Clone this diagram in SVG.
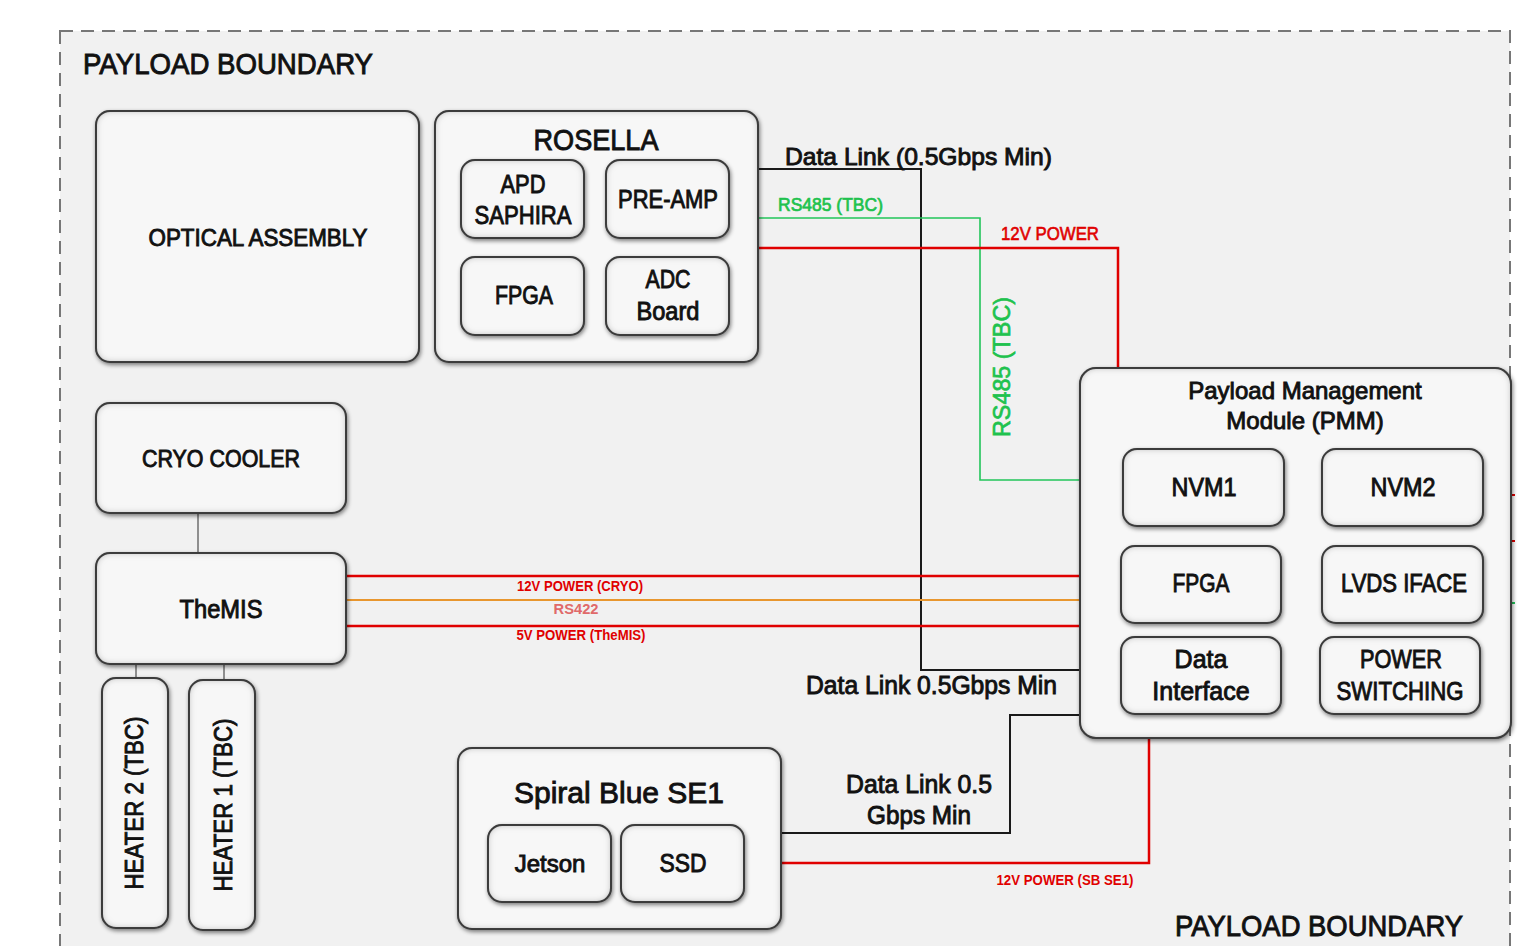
<svg xmlns="http://www.w3.org/2000/svg" width="1527" height="946" viewBox="0 0 1527 946">
<defs>
<filter id="box" x="-15%" y="-15%" width="130%" height="130%">
  <feGaussianBlur in="SourceAlpha" stdDeviation="2" result="blur"/>
  <feOffset in="blur" dx="1" dy="2" result="off"/>
  <feComponentTransfer in="off" result="drop"><feFuncA type="linear" slope="0.5"/></feComponentTransfer>
  <feFlood flood-color="#000" flood-opacity="0.75" result="fl"/>
  <feComposite in="fl" in2="SourceAlpha" operator="out" result="inv"/>
  <feGaussianBlur in="inv" stdDeviation="3.5" result="invb"/>
  <feComposite in="invb" in2="SourceAlpha" operator="in" result="inner"/>
  <feMerge><feMergeNode in="drop"/><feMergeNode in="SourceGraphic"/><feMergeNode in="inner"/></feMerge>
</filter>
<style>
.bx{fill:#f7f7f7;stroke:#4a4a4a;stroke-width:2;filter:url(#box)}
text{font-family:"Liberation Sans",Arial,sans-serif;fill:#111;stroke:#111;stroke-width:0.9}
.c{text-anchor:middle}
.lbl{font-size:25px}
.sm{font-size:14px;font-weight:bold;stroke:none}
.red{fill:#e00000;stroke:#e00000;stroke-width:0.6}
.pink{fill:#e06a6a;stroke:none}
.grn{fill:#1fc24e;stroke:#1fc24e;stroke-width:0.7}
.blk{fill:none;stroke:#1a1a1a;stroke-width:2}
.rl{fill:none;stroke:#e00000;stroke-width:2.5}
.gl{fill:none;stroke:#22c55a;stroke-width:1.6}
.ol{fill:none;stroke:#e8962e;stroke-width:2}
.gy{fill:none;stroke:#777;stroke-width:1.6}
</style>
</defs>
<rect x="0" y="0" width="1527" height="946" fill="#ffffff"/>
<g id="boundary">
  <rect x="60" y="31" width="1450" height="940" fill="#f1f1f1" stroke="#777" stroke-width="2" stroke-dasharray="13 8"/>
  <text x="83" y="74" font-size="29" textLength="290" lengthAdjust="spacingAndGlyphs">PAYLOAD BOUNDARY</text>
  <text x="1175" y="936" font-size="29" textLength="288" lengthAdjust="spacingAndGlyphs">PAYLOAD BOUNDARY</text>
</g>
<g id="connectors">
  <polyline class="blk" points="759,169 921,169 921,670 1080,670"/>
  <polyline class="gl" points="759,218 980,218 980,480 1080,480"/>
  <polyline class="rl" points="759,248 1118,248 1118,368"/>
  <line class="rl" x1="346" y1="576" x2="1080" y2="576"/>
  <line class="ol" x1="346" y1="600" x2="1080" y2="600"/>
  <line class="rl" x1="346" y1="626" x2="1080" y2="626"/>
  <polyline class="blk" points="781,833 1010,833 1010,715 1080,715"/>
  <polyline class="rl" points="781,863 1149,863 1149,739"/>
  <line class="gy" x1="198" y1="513" x2="198" y2="553"/>
  <line class="gy" x1="136" y1="665" x2="136" y2="678"/>
  <line class="gy" x1="224" y1="665" x2="224" y2="680"/>
  <line x1="1511" y1="495" x2="1515" y2="495" stroke="#e00000" stroke-width="2"/>
  <line x1="1511" y1="541" x2="1515" y2="541" stroke="#e00000" stroke-width="2"/>
  <line x1="1511" y1="603" x2="1515" y2="603" stroke="#22c55a" stroke-width="2"/>
  <text x="785" y="165" font-size="24" textLength="267" lengthAdjust="spacingAndGlyphs">Data Link (0.5Gbps Min)</text>
  <text x="778" y="211" font-size="18" class="grn" textLength="105" lengthAdjust="spacingAndGlyphs">RS485 (TBC)</text>
  <text x="1001" y="240" font-size="18" class="red" textLength="98" lengthAdjust="spacingAndGlyphs">12V POWER</text>
  <text transform="translate(1010,367) rotate(-90)" class="c grn" font-size="24" textLength="140" lengthAdjust="spacingAndGlyphs">RS485 (TBC)</text>
  <text x="580" y="591" class="c sm red" stroke="none" style="stroke:none" textLength="126" lengthAdjust="spacingAndGlyphs">12V POWER (CRYO)</text>
  <text x="576" y="614" class="c sm pink" textLength="45" lengthAdjust="spacingAndGlyphs">RS422</text>
  <text x="581" y="640" class="c sm red" style="stroke:none" textLength="129" lengthAdjust="spacingAndGlyphs">5V POWER (TheMIS)</text>
  <text x="806" y="694" font-size="25" textLength="251" lengthAdjust="spacingAndGlyphs">Data Link 0.5Gbps Min</text>
  <text x="919" y="793" class="c" font-size="25" textLength="146" lengthAdjust="spacingAndGlyphs">Data Link 0.5</text>
  <text x="919" y="824" class="c" font-size="25" textLength="104" lengthAdjust="spacingAndGlyphs">Gbps Min</text>
  <text x="1065" y="885" class="c sm red" style="stroke:none" textLength="137" lengthAdjust="spacingAndGlyphs">12V POWER (SB SE1)</text>
</g>
<g id="optical">
  <rect class="bx" x="96" y="111" width="323" height="251" rx="14"/>
  <text x="258" y="246" class="c" font-size="24" textLength="219" lengthAdjust="spacingAndGlyphs">OPTICAL ASSEMBLY</text>
</g>
<g id="rosella">
  <rect class="bx" x="435" y="111" width="323" height="251" rx="14"/>
  <text x="596" y="150" class="c" font-size="30" textLength="125" lengthAdjust="spacingAndGlyphs">ROSELLA</text>
</g>
<g id="apd">
  <rect class="bx" x="461" y="160" width="123" height="78" rx="14"/>
  <text x="523" y="193" class="c lbl" textLength="45" lengthAdjust="spacingAndGlyphs">APD</text>
  <text x="523" y="224" class="c lbl" textLength="97" lengthAdjust="spacingAndGlyphs">SAPHIRA</text>
</g>
<g id="preamp">
  <rect class="bx" x="606" y="160" width="123" height="78" rx="14"/>
  <text x="668" y="208" class="c lbl" textLength="100" lengthAdjust="spacingAndGlyphs">PRE-AMP</text>
</g>
<g id="fpga-rosella">
  <rect class="bx" x="461" y="257" width="123" height="78" rx="14"/>
  <text x="524" y="304" class="c lbl" textLength="58" lengthAdjust="spacingAndGlyphs">FPGA</text>
</g>
<g id="adc">
  <rect class="bx" x="606" y="257" width="123" height="78" rx="14"/>
  <text x="668" y="288" class="c lbl" textLength="45" lengthAdjust="spacingAndGlyphs">ADC</text>
  <text x="668" y="320" class="c lbl" textLength="63" lengthAdjust="spacingAndGlyphs">Board</text>
</g>
<g id="cryo">
  <rect class="bx" x="96" y="403" width="250" height="110" rx="14"/>
  <text x="221" y="467" class="c" font-size="24" textLength="158" lengthAdjust="spacingAndGlyphs">CRYO COOLER</text>
</g>
<g id="themis">
  <rect class="bx" x="96" y="553" width="250" height="111" rx="14"/>
  <text x="221" y="618" class="c lbl" textLength="83" lengthAdjust="spacingAndGlyphs">TheMIS</text>
</g>
<g id="heater2">
  <rect class="bx" x="102" y="678" width="66" height="250" rx="14"/>
  <text transform="translate(143,803) rotate(-90)" class="c lbl" textLength="173" lengthAdjust="spacingAndGlyphs">HEATER 2 (TBC)</text>
</g>
<g id="heater1">
  <rect class="bx" x="189" y="680" width="66" height="250" rx="14"/>
  <text transform="translate(232,805) rotate(-90)" class="c lbl" textLength="173" lengthAdjust="spacingAndGlyphs">HEATER 1 (TBC)</text>
</g>
<g id="pmm">
  <rect class="bx" x="1080" y="368" width="431" height="370" rx="16"/>
  <text x="1305" y="399" class="c" font-size="24">Payload Management</text>
  <text x="1305" y="429" class="c" font-size="24">Module (PMM)</text>
</g>
<g id="nvm1">
  <rect class="bx" x="1123" y="449" width="161" height="77" rx="14"/>
  <text x="1204" y="496" class="c lbl" textLength="65" lengthAdjust="spacingAndGlyphs">NVM1</text>
</g>
<g id="nvm2">
  <rect class="bx" x="1322" y="449" width="161" height="77" rx="14"/>
  <text x="1403" y="496" class="c lbl" textLength="65" lengthAdjust="spacingAndGlyphs">NVM2</text>
</g>
<g id="fpga-pmm">
  <rect class="bx" x="1121" y="546" width="160" height="77" rx="14"/>
  <text x="1201" y="592" class="c lbl" textLength="57" lengthAdjust="spacingAndGlyphs">FPGA</text>
</g>
<g id="lvds">
  <rect class="bx" x="1322" y="546" width="161" height="77" rx="14"/>
  <text x="1404" y="592" class="c lbl" textLength="126" lengthAdjust="spacingAndGlyphs">LVDS IFACE</text>
</g>
<g id="data-interface">
  <rect class="bx" x="1121" y="637" width="160" height="77" rx="14"/>
  <text x="1201" y="668" class="c lbl">Data</text>
  <text x="1201" y="700" class="c lbl">Interface</text>
</g>
<g id="power-switching">
  <rect class="bx" x="1320" y="637" width="160" height="77" rx="14"/>
  <text x="1401" y="668" class="c lbl" textLength="82" lengthAdjust="spacingAndGlyphs">POWER</text>
  <text x="1400" y="700" class="c lbl" textLength="127" lengthAdjust="spacingAndGlyphs">SWITCHING</text>
</g>
<g id="spiral-blue">
  <rect class="bx" x="458" y="748" width="323" height="181" rx="14"/>
  <text x="619" y="803" class="c" font-size="30">Spiral Blue SE1</text>
</g>
<g id="jetson">
  <rect class="bx" x="488" y="825" width="123" height="77" rx="14"/>
  <text x="550" y="872" class="c" font-size="24">Jetson</text>
</g>
<g id="ssd">
  <rect class="bx" x="621" y="825" width="123" height="77" rx="14"/>
  <text x="683" y="872" class="c lbl" textLength="47" lengthAdjust="spacingAndGlyphs">SSD</text>
</g>
</svg>
